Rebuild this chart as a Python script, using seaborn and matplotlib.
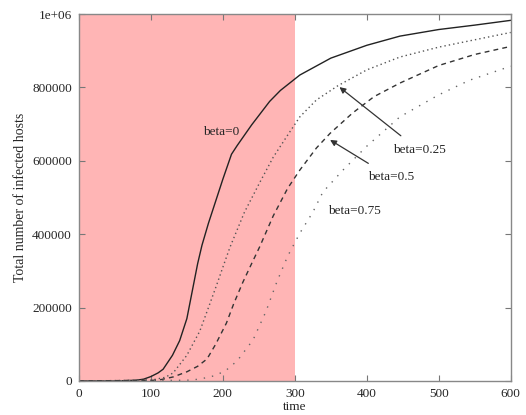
import numpy as np
import pandas as pd
import matplotlib
matplotlib.use("Agg")
import matplotlib.pyplot as plt
import seaborn as sns

# time points and total infected hosts
t_b0 = [0, 50, 80, 90, 100, 110, 117, 130, 140, 150, 158, 165, 171, 180, 190, 200, 212, 220,
        240, 265, 280, 307, 350, 400, 446, 500, 550, 600]
v_b0 = [0, 0, 2000, 5000, 12000, 22000, 32000, 70000, 110000, 170000, 250000, 320000, 370000,
        430000, 490000, 550000, 618000, 642000, 698000, 762000, 792000, 834000, 880000, 915000,
        940000, 958000, 970000, 983000]

t_b25 = [0, 100, 120, 131, 150, 168, 180, 192, 200, 210, 230, 251, 270, 290, 307, 330, 360,
         400, 446, 500, 550, 600]
v_b25 = [0, 2000, 10000, 22000, 70000, 136000, 200000, 265000, 310000, 365000, 460000, 540000,
         610000, 670000, 720000, 766000, 805000, 848000, 883000, 910000, 930000, 950000]

t_b50 = [0, 110, 131, 150, 165, 178, 190, 205, 215, 228, 240, 251, 270, 290, 307, 330, 349,
         380, 410, 446, 500, 550, 600]
v_b50 = [0, 2000, 11000, 25000, 40000, 60000, 100000, 158000, 210000, 270000, 320000, 365000,
         450000, 525000, 575000, 635000, 675000, 730000, 775000, 812000, 860000, 890000, 912000]

t_b75 = [0, 150, 168, 190, 205, 220, 242, 260, 275, 290, 307, 325, 339, 367, 400, 446, 500,
         543, 600]
v_b75 = [0, 2000, 5000, 15000, 30000, 55000, 112000, 190000, 270000, 340000, 403000, 460000,
         515000, 575000, 640000, 720000, 780000, 820000, 858000]

shade_end = 300

sns.set_style("ticks")
plt.rcParams['font.family'] = ['Liberation Serif', 'DejaVu Serif']

fig = plt.figure(figsize=(5.26, 4.15), dpi=100)
ax = fig.add_axes([0.150, 0.082, 0.821, 0.884])

ax.axvspan(0, shade_end, color='#ffb5b5', lw=0, zorder=0)

series = [
    (t_b0, v_b0, '#222222', None),
    (t_b25, v_b25, '#555555', (0, (1, 2.2))),
    (t_b50, v_b50, '#333333', (0, (3.5, 3))),
    (t_b75, v_b75, '#666666', (0, (1, 5))),
]
for t, v, c, dash in series:
    df = pd.DataFrame({'time': t, 'hosts': v})
    sns.lineplot(data=df, x='time', y='hosts', ax=ax, color=c, lw=1.0)
    if dash is not None:
        ax.lines[-1].set_linestyle(dash)

fs = 9.5
ax.set_xlim(0, 600)
ax.set_ylim(0, 1000000)
ax.set_xticks(np.arange(0, 601, 100))
ax.set_yticks(np.arange(0, 1000001, 200000))
ax.set_yticklabels(['0', '200000', '400000', '600000', '800000', '1e+06'])
ax.tick_params(direction='in', top=True, right=True, length=4, labelsize=fs,
               color='#777777', pad=5)
for s in ax.spines.values():
    s.set_color('#888888')
    s.set_linewidth(1.0)

ax.set_xlabel('time', fontsize=fs, labelpad=1)
ax.set_ylabel('Total number of infected hosts', fontsize=10, labelpad=4)

ax.text(172, 678000, 'beta=0', fontsize=fs, va='center')
ax.annotate('beta=0.25', xy=(362, 801000), xytext=(436, 629000), fontsize=fs, va='center',
            arrowprops=dict(arrowstyle='-|>', color='#333333', lw=0.9, shrinkA=6, shrinkB=0,
                            mutation_scale=9))
ax.annotate('beta=0.5', xy=(349, 657000), xytext=(401, 556000), fontsize=fs, va='center',
            arrowprops=dict(arrowstyle='-|>', color='#333333', lw=0.9, shrinkA=6, shrinkB=0,
                            mutation_scale=9))
ax.text(346, 463000, 'beta=0.75', fontsize=fs, va='center')

fig.savefig('out.png', dpi=100)
